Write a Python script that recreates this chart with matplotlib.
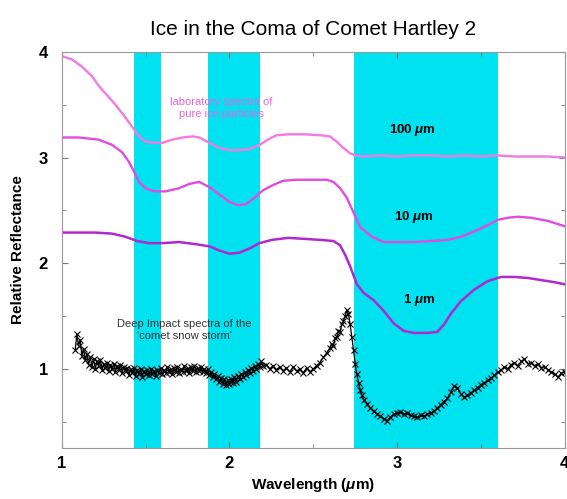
import matplotlib
matplotlib.use("Agg")
import matplotlib.pyplot as plt
from matplotlib.ticker import MultipleLocator

plt.rcParams['font.family'] = ['Liberation Sans', 'DejaVu Sans']
plt.rcParams['mathtext.fontset'] = 'custom'
plt.rcParams['mathtext.it'] = 'Liberation Sans:italic:bold'
plt.rcParams['mathtext.rm'] = 'Liberation Sans:bold'

# Water-ice absorption bands (wavelength ranges, micron)
bands = [(1.43, 1.59), (1.87, 2.18), (2.74, 3.60)]

# Laboratory spectra of pure ice particles
w100 = [1.00, 1.06, 1.12, 1.18, 1.22, 1.27, 1.32, 1.37, 1.42, 1.46, 1.50, 1.55, 1.60, 1.66, 1.72, 1.78,
        1.82, 1.88, 1.94, 2.00, 2.06, 2.12, 2.18, 2.24, 2.28, 2.35, 2.45, 2.55, 2.60, 2.64, 2.68, 2.72,
        2.75, 2.80, 2.90, 3.00, 3.10, 3.20, 3.30, 3.40, 3.50, 3.60, 3.70, 3.80, 3.90, 4.00]
r100 = [3.96, 3.93, 3.86, 3.77, 3.68, 3.59, 3.50, 3.40, 3.29, 3.20, 3.15, 3.14, 3.14, 3.17, 3.19, 3.20,
        3.19, 3.14, 3.09, 3.07, 3.07, 3.08, 3.12, 3.18, 3.21, 3.22, 3.22, 3.21, 3.20, 3.15, 3.09, 3.04,
        3.02, 3.01, 3.02, 3.01, 3.02, 3.02, 3.01, 3.02, 3.01, 3.02, 3.01, 3.01, 3.01, 3.00]

w10 = [1.00, 1.10, 1.22, 1.30, 1.36, 1.40, 1.43, 1.46, 1.50, 1.55, 1.62, 1.70, 1.76, 1.82, 1.88, 1.94,
       2.00, 2.05, 2.10, 2.15, 2.20, 2.26, 2.32, 2.40, 2.50, 2.58, 2.62, 2.66, 2.70, 2.74, 2.78, 2.85,
       2.92, 3.00, 3.10, 3.20, 3.30, 3.38, 3.46, 3.54, 3.60, 3.66, 3.72, 3.80, 3.90, 4.00]
r10 = [3.19, 3.19, 3.17, 3.12, 3.05, 2.96, 2.87, 2.77, 2.71, 2.68, 2.68, 2.71, 2.75, 2.77, 2.72, 2.65,
       2.58, 2.55, 2.56, 2.62, 2.69, 2.74, 2.78, 2.79, 2.79, 2.79, 2.77, 2.71, 2.62, 2.48, 2.34, 2.25,
       2.20, 2.20, 2.20, 2.21, 2.22, 2.25, 2.30, 2.36, 2.41, 2.43, 2.44, 2.43, 2.40, 2.35]

w1 = [1.00, 1.10, 1.20, 1.30, 1.38, 1.45, 1.52, 1.60, 1.70, 1.80, 1.88, 1.94, 2.00, 2.06, 2.12, 2.18,
      2.25, 2.35, 2.45, 2.55, 2.62, 2.66, 2.69, 2.72, 2.76, 2.80, 2.86, 2.92, 2.98, 3.04, 3.10, 3.18,
      3.24, 3.28, 3.32, 3.38, 3.46, 3.54, 3.62, 3.70, 3.78, 3.86, 3.94, 4.00]
r1 = [2.29, 2.29, 2.29, 2.28, 2.25, 2.21, 2.19, 2.19, 2.20, 2.18, 2.16, 2.12, 2.09, 2.10, 2.14, 2.19,
      2.22, 2.24, 2.23, 2.22, 2.21, 2.17, 2.08, 1.97, 1.80, 1.72, 1.65, 1.55, 1.43, 1.36, 1.34, 1.34,
      1.35, 1.42, 1.52, 1.64, 1.75, 1.83, 1.87, 1.87, 1.86, 1.84, 1.82, 1.80]

# Deep Impact spectrum of the coma
di_w = [1.08, 1.09, 1.10, 1.11, 1.12, 1.13, 1.14, 1.15, 1.16, 1.17, 1.18, 1.19, 1.20, 1.21, 1.22, 1.23,
        1.24, 1.25, 1.26, 1.27, 1.28, 1.29, 1.30, 1.31, 1.32, 1.33, 1.34, 1.35, 1.36, 1.37, 1.38, 1.39,
        1.40, 1.41, 1.42, 1.43, 1.44, 1.45, 1.46, 1.47, 1.48, 1.49, 1.50,
        1.51, 1.52, 1.53, 1.54, 1.55, 1.56, 1.57, 1.58, 1.59, 1.60, 1.61, 1.62, 1.63, 1.64, 1.65, 1.66,
        1.67, 1.68, 1.69, 1.70, 1.71, 1.72, 1.73, 1.74, 1.75, 1.76, 1.77, 1.78, 1.79, 1.80, 1.81, 1.82,
        1.83, 1.84, 1.85,
        1.86, 1.87, 1.88, 1.89, 1.90, 1.91, 1.92, 1.93, 1.94, 1.95, 1.96, 1.97, 1.98, 1.99, 2.00, 2.01,
        2.02, 2.03, 2.04, 2.05, 2.06, 2.07, 2.08, 2.09, 2.10, 2.11, 2.12, 2.13, 2.14, 2.15, 2.16, 2.17,
        2.18, 2.19, 2.20,
        2.22, 2.24, 2.26, 2.28, 2.30, 2.32, 2.34, 2.36, 2.38, 2.40, 2.42, 2.44, 2.46, 2.48, 2.50, 2.52,
        2.54, 2.56, 2.58, 2.60,
        2.61, 2.62, 2.63, 2.64, 2.65, 2.66, 2.67, 2.68, 2.69, 2.70, 2.71, 2.72, 2.73, 2.74, 2.75, 2.76,
        2.77, 2.78, 2.79, 2.80,
        2.82, 2.84, 2.86, 2.88, 2.90, 2.92, 2.94, 2.96, 2.98, 3.00, 3.02, 3.04, 3.06, 3.08, 3.10, 3.12,
        3.14, 3.16, 3.18, 3.20, 3.22, 3.24, 3.26, 3.28, 3.30, 3.32, 3.34, 3.36, 3.38, 3.40, 3.42, 3.44,
        3.46, 3.48, 3.50, 3.52, 3.54, 3.56, 3.58, 3.60,
        3.62, 3.64, 3.66, 3.68, 3.70, 3.72, 3.74, 3.76, 3.78, 3.80, 3.82, 3.84, 3.86, 3.88, 3.90, 3.92,
        3.94, 3.96, 3.98, 4.00]
di_r = [1.18, 1.33, 1.22, 1.27, 1.12, 1.19, 1.08, 1.14, 1.04, 1.11, 1.02, 1.09, 1.00, 1.07, 1.03, 1.08,
        0.99, 1.05, 1.01, 1.06, 0.98, 1.04, 1.00, 1.05, 0.97, 1.03, 0.99, 1.04, 0.96, 1.02, 0.98, 1.01,
        0.94, 1.00, 0.96, 1.01, 0.93, 0.99, 0.95, 1.00, 0.92, 0.98, 0.95,
        0.99, 0.94, 1.00, 0.95, 0.98, 0.93, 0.99, 0.96, 1.01, 0.95, 0.99, 0.96, 1.02, 0.97, 1.00, 0.95,
        1.01, 0.97, 1.02, 0.96, 1.00, 0.97, 1.03, 0.98, 1.01, 0.96, 1.02, 0.98, 1.03, 0.97, 1.01, 0.98,
        1.02, 0.97, 1.00,
        0.96, 1.00, 0.94, 0.97, 0.92, 0.95, 0.90, 0.93, 0.88, 0.91, 0.86, 0.90, 0.85, 0.89, 0.86, 0.90,
        0.87, 0.92, 0.88, 0.93, 0.90, 0.95, 0.92, 0.97, 0.94, 0.99, 0.96, 1.01, 0.98, 1.03, 1.00, 1.05,
        1.02, 1.07, 1.03,
        1.04, 1.00, 1.03, 0.99, 1.02, 0.98, 1.01, 0.97, 1.02, 0.98, 1.00, 0.96, 1.01, 0.97, 1.00, 1.03,
        1.06, 1.11, 1.15, 1.20,
        1.24, 1.22, 1.29, 1.30, 1.36, 1.35, 1.42, 1.45, 1.50, 1.56, 1.52, 1.42, 1.30, 1.18, 1.05, 0.95,
        0.87, 0.80, 0.75, 0.71,
        0.67, 0.63, 0.60, 0.57, 0.55, 0.53, 0.51, 0.54, 0.57, 0.58, 0.59, 0.57, 0.58, 0.56, 0.55, 0.54,
        0.56, 0.55, 0.57, 0.58, 0.60, 0.63, 0.66, 0.69, 0.72, 0.78, 0.84, 0.82, 0.76, 0.73, 0.75, 0.77,
        0.80, 0.82, 0.85, 0.87, 0.89, 0.91, 0.94, 0.97,
        0.99, 1.02, 1.00, 1.04, 1.06, 1.03, 1.07, 1.09, 1.05, 1.06, 1.03, 1.05, 1.01, 1.02, 0.99, 0.97,
        0.95, 0.92, 0.96, 0.97]

fig = plt.figure(figsize=(5.67, 4.99), dpi=100)
ax = fig.add_axes([0.109, 0.102, 0.887, 0.794])

for lo, hi in bands:
    ax.axvspan(lo, hi, color='#00e2f0', lw=0, zorder=0)

ax.plot(w100, r100, color='#f27ae0', lw=1.7)
ax.plot(w10, r10, color='#e04ce0', lw=1.7)
ax.plot(w1, r1, color='#b028d0', lw=1.8)
ax.plot(di_w, di_r, color='black', lw=0.9, marker='x', ms=4, mew=0.8)

ax.text(1.95, 3.47, 'laboratory spectra of\npure ice particles', color='#f060e0',
        fontsize=8, ha='center', va='center', linespacing=1.2)
ax.text(3.09, 3.26, r'100 $\mu$m', fontsize=9.5, fontweight='bold', ha='center', va='center')
ax.text(3.10, 2.44, r'10 $\mu$m', fontsize=9.5, fontweight='bold', ha='center', va='center')
ax.text(3.13, 1.65, r'1 $\mu$m', fontsize=9.5, fontweight='bold', ha='center', va='center')
ax.text(1.73, 1.37, "Deep Impact spectra of the\n'comet snow storm'", color='#333333',
        fontsize=8, ha='center', va='center', linespacing=1.2)

ax.set_xlim(1, 4)
ax.set_ylim(0.25, 4)
ax.xaxis.set_major_locator(MultipleLocator(1))
ax.xaxis.set_minor_locator(MultipleLocator(0.5))
ax.yaxis.set_major_locator(MultipleLocator(1))
ax.yaxis.set_minor_locator(MultipleLocator(0.5))
ax.tick_params(which='both', direction='in', top=True, right=True, color='#777777')
ax.tick_params(which='major', length=4, labelsize=12)
ax.tick_params(axis='x', which='major', pad=6)
ax.tick_params(axis='y', which='major', pad=10)
ax.tick_params(which='minor', length=3)
for lab in ax.get_xticklabels() + ax.get_yticklabels():
    lab.set_fontweight('bold')
for sp in ax.spines.values():
    sp.set_color('#999999')

ax.set_title('Ice in the Coma of Comet Hartley 2', fontsize=15, pad=12)
ax.set_xlabel(r'Wavelength ($\mu$m)', fontsize=11, fontweight='bold', labelpad=3)
ax.set_ylabel('Relative Reflectance', fontsize=11, fontweight='bold', labelpad=10)

fig.savefig('out.png', dpi=100)
